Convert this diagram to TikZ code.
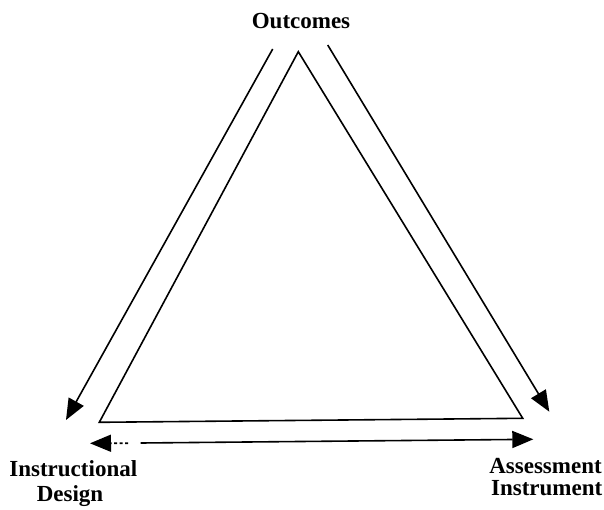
\documentclass[tikz,border=0pt]{standalone}
\usepackage{fontspec}
\setmainfont{Liberation Serif}
\usetikzlibrary{arrows.meta}
\tikzset{
  lbl/.style={font=\fontsize{23}{25}\selectfont\bfseries, inner sep=0pt, anchor=base},
  edge/.style={line width=1.6pt, black},
  flow/.style={edge, -{Triangle[length=21pt,width=17pt]}},
}
\begin{document}
\begin{tikzpicture}[x=1pt,y=-1pt]
  \useasboundingbox (0,0) rectangle (604,510);

  % vertex labels
  \node[lbl] (outcomes) at (301,28.3) {Outcomes};
  \node[lbl] (instr) at (73.3,476.7) {Instructional};
  \node[lbl] (design) at (70,501.7) {Design};
  \node[lbl] (assess) at (545.5,473) {Assessment};
  \node[lbl] (instrument) at (546.7,495) {Instrument};

  % triangle corners
  \coordinate (apex) at (298.3,51.7);
  \coordinate (bl) at (99.3,422.3);
  \coordinate (br) at (522.7,418.3);
  \draw[edge, line join=miter] (apex) -- (bl) -- (br) -- cycle;

  % arrows from the top down each side
  \coordinate (ls) at (272.7,49);
  \coordinate (le) at (66,420);
  \coordinate (rs) at (327.7,45);
  \coordinate (re) at (549.3,411.7);
  \draw[flow] (ls) -- (le);
  \draw[flow] (rs) -- (re);

  % two-way link along the base
  \coordinate (bleft) at (90,443.3);
  \coordinate (bdash) at (128,443.2);
  \coordinate (bsolid) at (140.7,443);
  \coordinate (bright) at (533.3,439.3);
  \draw[flow, dash pattern=on 3pt off 2.5pt] (bdash) -- (bleft);
  \draw[flow] (bsolid) -- (bright);
\end{tikzpicture}
\end{document}
